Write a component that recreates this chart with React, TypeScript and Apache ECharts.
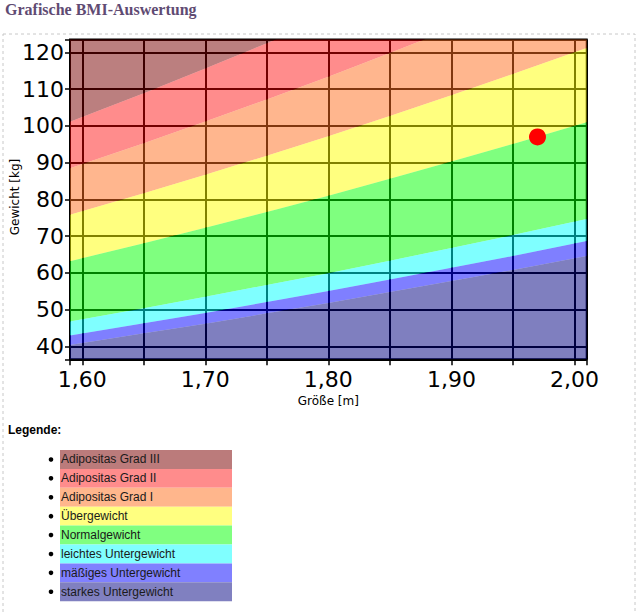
import React, { useEffect, useRef } from "react";
import * as echarts from "echarts";

const heights = [1.59, 1.65, 1.7, 1.75, 1.8, 1.85, 1.9, 1.95, 2.01];
// Boundary weights (kg) at those heights
const bStark = [40.4, 43.6, 46.2, 49.0, 51.8, 54.8, 57.8, 60.8, 64.6]; // BMI 16
const bMaessig = [43.0, 46.3, 49.1, 52.1, 55.1, 58.2, 61.4, 64.6, 68.7]; // BMI 17
const bLeicht = [46.8, 50.4, 53.5, 56.7, 59.9, 63.3, 66.8, 70.3, 74.7]; // BMI 18.5
const bNormal = [63.2, 68.1, 72.3, 76.6, 81.0, 85.6, 90.3, 95.1, 101.0]; // BMI 25
const bUeber = [75.8, 81.7, 86.7, 91.9, 97.2, 102.7, 108.3, 114.1, 121.2]; // BMI 30
const bAdi1 = [88.5, 95.3, 101.2, 107.2, 113.4, 119.8, 126.4, 133.1, 141.4]; // BMI 35
const bAdi2 = [101.1, 108.9, 115.6, 122.5, 129.6, 136.9, 144.4, 152.1, 161.6]; // BMI 40

const yMin = 36.5;
const yMax = 123.5;
const xMin = 1.59;
const xMax = 2.01;
const bottomEdge = heights.map(() => yMin);
const topEdge = heights.map(() => 170);

// Legend / bands, top to bottom
const bandNames = [
  "Adipositas Grad III",
  "Adipositas Grad II",
  "Adipositas Grad I",
  "Übergewicht",
  "Normalgewicht",
  "leichtes Untergewicht",
  "mäßiges Untergewicht",
  "starkes Untergewicht",
];
const bandFills = [
  "rgba(120,0,0,0.5)",
  "rgba(255,0,0,0.45)",
  "rgba(255,110,30,0.5)",
  "rgba(255,255,0,0.5)",
  "rgba(0,255,0,0.5)",
  "rgba(0,255,255,0.5)",
  "rgba(0,0,255,0.5)",
  "rgba(0,0,128,0.5)",
];
const legendColors = [
  "#bb7b7b",
  "#ff8c8c",
  "#ffb68c",
  "#ffff80",
  "#80ff80",
  "#80ffff",
  "#8080ff",
  "#8080c0",
];
// [upper, lower] boundaries per band
const bandEdges = [
  [topEdge, bAdi2],
  [bAdi2, bAdi1],
  [bAdi1, bUeber],
  [bUeber, bNormal],
  [bNormal, bLeicht],
  [bLeicht, bMaessig],
  [bMaessig, bStark],
  [bStark, bottomEdge],
];

// Person's measurement
const person = [[1.97, 97]];

export default function App() {
  const ref = useRef<HTMLDivElement>(null);
  useEffect(() => {
    if (!ref.current) return;
    const chart = echarts.init(ref.current, null, { renderer: "svg" });
    const legendTop = 450;
    const rowH = 18.9;
    const legendGraphics: any[] = [];
    bandNames.forEach((name, i) => {
      legendGraphics.push({
        type: "rect",
        shape: { x: 60, y: legendTop + i * rowH, width: 172, height: rowH },
        style: { fill: legendColors[i] },
      });
      legendGraphics.push({
        type: "circle",
        shape: { cx: 51, cy: legendTop + i * rowH + rowH / 2, r: 2.3 },
        style: { fill: "#000" },
      });
      legendGraphics.push({
        type: "text",
        x: 61,
        y: legendTop + i * rowH + rowH / 2,
        style: {
          text: name,
          fill: "#1a1a1a",
          font: "12px 'Liberation Sans', Arial, sans-serif",
          verticalAlign: "middle",
          align: "left",
        },
      });
    });

    const option: any = {
      animation: false,
      backgroundColor: "#fff",
      title: {
        text: "Grafische BMI-Auswertung",
        left: 5,
        top: 1,
        padding: 0,
        textStyle: {
          fontFamily: "'Liberation Serif', serif",
          fontWeight: "bold",
          fontSize: 16,
          color: "#5f4b73",
        },
      },
      graphic: [
        {
          type: "rect",
          shape: { x: 3, y: 34, width: 632, height: 620 },
          style: { fill: "none", stroke: "#c8c8c8", lineWidth: 1, lineDash: [3, 3] },
          z: -10,
        },
        {
          type: "text",
          x: 15,
          y: 197,
          rotation: Math.PI / 2,
          style: {
            text: "Gewicht [kg]",
            fill: "#000",
            font: "12px 'DejaVu Sans', sans-serif",
            align: "center",
            verticalAlign: "middle",
          },
        },
        {
          type: "text",
          x: 8,
          y: 430,
          style: {
            text: "Legende:",
            fill: "#000",
            font: "bold 12px 'Liberation Sans', Arial, sans-serif",
            verticalAlign: "middle",
          },
        },
        ...legendGraphics,
      ],
      grid: {
        left: 70,
        top: 39.5,
        right: 53.3,
        bottom: 254.7,
        containLabel: false,
        outerBoundsMode: "none",
        show: true,
        backgroundColor: "#fff",
        borderColor: "#000",
        borderWidth: 2,
      },
      xAxis: {
        type: "value",
        min: xMin,
        max: xMax,
        splitNumber: 8,
        minInterval: 0.05,
        maxInterval: 0.05,
        name: "Größe [m]",
        nameLocation: "middle",
        nameGap: 36,
        nameTextStyle: { fontFamily: "'DejaVu Sans', sans-serif", fontSize: 12, color: "#000" },
        axisLine: { show: false },
        axisTick: { show: true, length: 6, lineStyle: { color: "#000", width: 1.5 } },
        axisLabel: {
          margin: 9,
          color: "#000",
          fontFamily: "'DejaVu Sans', sans-serif",
          fontSize: 22,
          formatter: (v: number) => {
            const c = Math.round(v * 100);
            if (c % 10 !== 0) return "";
            return (c / 100).toFixed(2).replace(".", ",");
          },
        },
        splitLine: { show: true, lineStyle: { color: "#000", width: 2 } },
      },
      yAxis: {
        type: "value",
        min: yMin,
        max: yMax,
        splitNumber: 9,
        minInterval: 10,
        maxInterval: 10,
        axisLine: { show: false },
        axisTick: { show: true, length: 5, lineStyle: { color: "#000", width: 1.5 } },
        axisLabel: {
          margin: 6,
          color: "#000",
          fontFamily: "'DejaVu Sans', sans-serif",
          fontSize: 22,
          formatter: (v: number) => {
            const r = Math.round(v * 10);
            if (r % 100 !== 0) return "";
            return String(r / 10);
          },
        },
        splitLine: { show: true, lineStyle: { color: "#000", width: 2 } },
      },
      series: [
        {
          type: "custom",
          clip: true,
          silent: true,
          data: bandNames.map((_, i) => [i]),
          renderItem: (params: any, api: any) => {
            const idx = api.value(0);
            const [upper, lower] = bandEdges[idx];
            const pts: number[][] = [];
            heights.forEach((h, k) => pts.push(api.coord([h, lower[k]])));
            for (let k = heights.length - 1; k >= 0; k--) pts.push(api.coord([heights[k], upper[k]]));
            return {
              type: "polygon",
              shape: { points: pts },
              style: { fill: bandFills[idx], stroke: "none" },
            };
          },
          z: 2,
        },
        {
          type: "scatter",
          data: person,
          symbolSize: 17,
          itemStyle: { color: "#ff0000", opacity: 1 },
          z: 5,
        },
      ],
    };
    chart.setOption(option);
    return () => chart.dispose();
  }, []);
  return (
    <div
      ref={ref}
      style={{ position: "absolute", left: 0, top: 0, width: 640, height: 614 }}
    />
  );
}
